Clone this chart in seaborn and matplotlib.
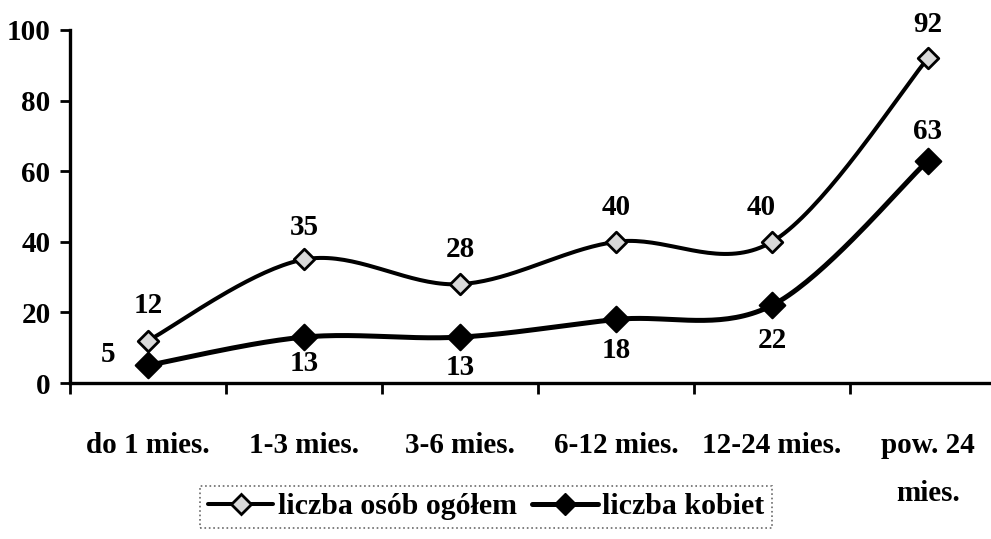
import matplotlib.pyplot as plt
import numpy as np
import pandas as pd
import seaborn as sns
from matplotlib.lines import Line2D

# ============================================================================
# DATA
# ============================================================================

categories = ["do 1 mies.", "1-3 mies.", "3-6 mies.", "6-12 mies.", "12-24 mies.", "pow. 24\nmies."]
ogolem = [12, 35, 28, 40, 40, 92]
kobiety = [5, 13, 13, 18, 22, 63]
y_ticks = [0, 20, 40, 60, 80, 100]
series_names = ["liczba osób ogółem", "liczba kobiet"]

# label offsets in points (dx, dy)
ogolem_offsets = [(0, 25), (0, 23), (0, 25), (0, 25), (-8, 25), (0, 24)]
kobiety_offsets = [(-29, 8), (0, -19), (0, -22), (0, -22), (0, -25), (0, 21)]


def smooth(values, n=40):
    # Excel-like smoothed line: Bezier segments, tangents from neighbouring points
    x = np.arange(len(values), dtype=float)
    y = np.asarray(values, dtype=float)
    px = np.concatenate([[x[0]], x, [x[-1]]])
    py = np.concatenate([[y[0]], y, [y[-1]]])
    t = np.linspace(0, 1, n)[:, None]
    out = []
    for i in range(len(x) - 1):
        p0 = np.array([x[i], y[i]])
        p3 = np.array([x[i + 1], y[i + 1]])
        p1 = p0 + (np.array([px[i + 2], py[i + 2]]) - np.array([px[i], py[i]])) / 6
        p2 = p3 - (np.array([px[i + 3], py[i + 3]]) - np.array([px[i + 1], py[i + 1]])) / 6
        seg = ((1 - t) ** 3) * p0 + 3 * ((1 - t) ** 2) * t * p1 + 3 * (1 - t) * t ** 2 * p2 + t ** 3 * p3
        out.append(seg)
    pts = np.vstack(out)
    return pts[:, 0], pts[:, 1]


sns.set_theme(style="white")
plt.rcParams["font.family"] = ["Liberation Serif", "DejaVu Serif"]
plt.rcParams["font.weight"] = "bold"
plt.rcParams["text.color"] = "black"
plt.rcParams["xtick.color"] = "black"
plt.rcParams["ytick.color"] = "black"

fig = plt.figure(figsize=(9.91, 5.39), dpi=100)
ax = fig.add_axes([70 / 991, 1 - 383 / 539, 936 / 991, 353 / 539])

styles = [
    dict(color="black", lw=2.9, face="#d9d9d9", ms=110, ew=2.0),
    dict(color="black", lw=3.6, face="black", ms=170, ew=1.5),
]

for vals, st in zip([ogolem, kobiety], styles):
    sx, sy = smooth(vals)
    curve = pd.DataFrame({"x": sx, "y": sy})
    sns.lineplot(data=curve, x="x", y="y", ax=ax, color=st["color"], lw=st["lw"],
                 sort=False, estimator=None, zorder=2)
    pts = pd.DataFrame({"x": np.arange(len(vals)), "y": vals})
    sns.scatterplot(data=pts, x="x", y="y", ax=ax, marker="D", s=st["ms"],
                    color=st["face"], edgecolor="black", linewidth=st["ew"], zorder=3)

fs = 21
for i, v in enumerate(ogolem):
    ax.annotate(str(v), (i, v), xytext=ogolem_offsets[i], textcoords="offset points",
                ha="center", va="center", fontsize=fs, fontweight="bold", color="black")
for i, v in enumerate(kobiety):
    ax.annotate(str(v), (i, v), xytext=kobiety_offsets[i], textcoords="offset points",
                ha="center", va="center", fontsize=fs, fontweight="bold", color="black")

ax.set_xlim(-0.5, 5.5)
ax.set_ylim(0, 100)
ax.set_xlabel("")
ax.set_ylabel("")

for side in ["top", "right"]:
    ax.spines[side].set_visible(False)
for side in ["left", "bottom"]:
    ax.spines[side].set_linewidth(2.4)
    ax.spines[side].set_color("black")

ax.set_yticks(y_ticks)
ax.set_yticklabels([str(v) for v in y_ticks], fontsize=fs, fontweight="bold")
ax.tick_params(axis="y", direction="out", length=7, width=2, pad=7, left=True, colors="black")

ax.set_xticks(np.arange(-0.5, 6, 1))
ax.set_xticklabels([])
ax.set_xticks(np.arange(len(categories)), minor=True)
ax.set_xticklabels(categories, minor=True, fontsize=fs, fontweight="bold", linespacing=2.0)
ax.tick_params(axis="x", which="major", direction="out", length=8, width=2, bottom=True)
ax.tick_params(axis="x", which="minor", length=0, pad=35, colors="black")
ax.grid(False)

handles = [
    Line2D([], [], color="black", lw=2.9, marker="D", markersize=10,
           markerfacecolor="#d9d9d9", markeredgecolor="black", markeredgewidth=2),
    Line2D([], [], color="black", lw=3.6, marker="D", markersize=11,
           markerfacecolor="black", markeredgecolor="black"),
]
leg = fig.legend(handles, series_names, loc="center", bbox_to_anchor=(486 / 991, 1 - 507 / 539),
                 ncol=2, frameon=True, fancybox=False, handlelength=2.2, handletextpad=0.15,
                 columnspacing=0.5, borderpad=0.25, borderaxespad=0,
                 prop={"size": 21.5, "weight": "bold"})
leg.get_frame().set_edgecolor("#444444")
leg.get_frame().set_linewidth(1.2)
leg.get_frame().set_linestyle(":")
for txt in leg.get_texts():
    txt.set_color("black")

plt.savefig("out.png", dpi=100)
